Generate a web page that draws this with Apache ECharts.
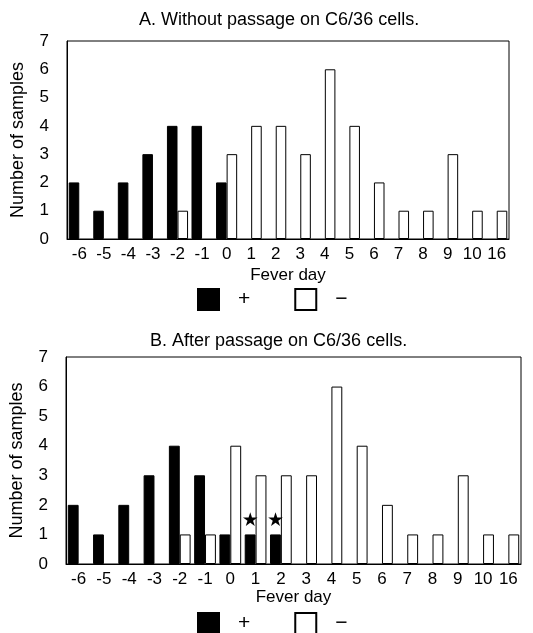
<!DOCTYPE html>
<html lang="en">
<head>
    <meta charset="UTF-8">
    <title>Fever day</title>
    <script type="text/javascript" src="https://cdn.jsdelivr.net/npm/echarts@6/dist/echarts.min.js"></script>
</head>
<body style="margin:0">
<div id="main" style="width:533px;height:633px"></div>
<script type="text/javascript">
    var days = ['-6', '-5', '-4', '-3', '-2', '-1', '0', '1', '2', '3', '4', '5', '6', '7', '8', '9', '10', '16'];
    // panel A: without passage
    var posA = [2, 1, 2, 3, 4, 4, 2, 0, 0, 0, 0, 0, 0, 0, 0, 0, 0, 0];
    var negA = [0, 0, 0, 0, 1, 0, 3, 4, 4, 3, 6, 4, 2, 1, 1, 3, 1, 1];
    // panel B: after passage
    var posB = [2, 1, 2, 3, 4, 3, 1, 1, 1, 0, 0, 0, 0, 0, 0, 0, 0, 0];
    var negB = [0, 0, 0, 0, 1, 1, 4, 3, 3, 3, 6, 4, 2, 1, 1, 3, 1, 1];
    var starDays = ['1', '2'];

    var font = 'Liberation Sans, Arial, sans-serif';
    var myChart = echarts.init(document.getElementById('main'));

    function hide0(arr) {
        return arr.map(function (v) { return v === 0 ? '-' : v; });
    }

    var posBdata = posB.map(function (v, i) {
        if (starDays.indexOf(days[i]) >= 0) {
            return {
                value: v,
                label: {show: true, position: 'top', formatter: '★', fontSize: 19, color: '#000', distance: 4, fontFamily: 'DejaVu Sans'}
            };
        }
        return v === 0 ? '-' : v;
    });

    function xAxis(idx, gap) {
        return {
            type: 'category', gridIndex: idx, data: days,
            axisLine: {lineStyle: {color: '#000'}},
            axisTick: {show: false},
            axisLabel: {color: '#000', fontSize: 17, fontFamily: font, margin: 7, interval: 0},
            name: 'Fever day', nameLocation: 'middle', nameGap: gap,
            nameTextStyle: {color: '#000', fontSize: 17, fontFamily: font}
        };
    }
    function yAxis(idx) {
        return {
            type: 'value', gridIndex: idx, min: 0, max: 7, interval: 1,
            axisLine: {show: true, lineStyle: {color: '#000'}},
            axisTick: {show: false},
            splitLine: {show: false},
            axisLabel: {color: '#000', fontSize: 17, fontFamily: font, margin: 18},
            name: 'Number of samples', nameLocation: 'middle', nameGap: 40,
            nameTextStyle: {color: '#000', fontSize: 18, fontFamily: font}
        };
    }
    var blackStyle = {color: '#000', borderColor: '#000', borderWidth: 1};
    var whiteStyle = {color: '#fff', borderColor: '#000', borderWidth: 1};
    function legend(top) {
        return {
            top: top, left: 192, itemWidth: 21, itemHeight: 21, itemGap: 44,
            icon: 'rect',
            data: ['+', '−'],
            textStyle: {color: '#000', fontSize: 21, fontFamily: font, padding: [0, 0, 0, 14]},
            selectedMode: false
        };
    }

    var option = {
        animation: false,
        title: [
            {text: 'A. Without passage on C6/36 cells.', left: 139, top: 11, padding: 0,
             textStyle: {fontSize: 18, fontWeight: 'normal', color: '#000', fontFamily: font}},
            {text: 'B. After passage on C6/36 cells.', left: 150, top: 332, padding: 0,
             textStyle: {fontSize: 18, fontWeight: 'normal', color: '#000', fontFamily: font}}
        ],
        legend: [legend(283), legend(607)],
        grid: [
            {left: 67, top: 41, width: 442, height: 198, show: true, borderColor: '#000', borderWidth: 1},
            {left: 65, top: 357, width: 456, height: 207, show: true, borderColor: '#000', borderWidth: 1}
        ],
        xAxis: [xAxis(0, 28), xAxis(1, 25)],
        yAxis: [yAxis(0), yAxis(1)],
        series: [
            {name: '+', type: 'bar', xAxisIndex: 0, yAxisIndex: 0, data: hide0(posA), itemStyle: blackStyle, barGap: '0%', barCategoryGap: '14%'},
            {name: '−', type: 'bar', xAxisIndex: 0, yAxisIndex: 0, data: hide0(negA), itemStyle: whiteStyle},
            {name: '+', type: 'bar', xAxisIndex: 1, yAxisIndex: 1, data: posBdata, itemStyle: blackStyle, barGap: '0%', barCategoryGap: '14%'},
            {name: '−', type: 'bar', xAxisIndex: 1, yAxisIndex: 1, data: hide0(negB), itemStyle: whiteStyle}
        ]
    };
    myChart.setOption(option);
</script>
</body>
</html>
